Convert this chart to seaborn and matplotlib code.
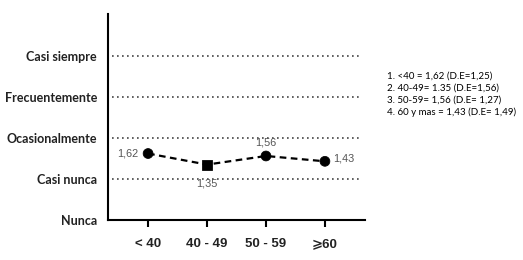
import matplotlib
matplotlib.use("Agg")
import matplotlib.pyplot as plt
import seaborn as sns
import pandas as pd

categories = ["< 40", "40 - 49", "50 - 59", "⩾60"]
values = [1.62, 1.35, 1.56, 1.43]
value_labels = ["1,62", "1,35", "1,56", "1,43"]
marker_kind = ["circle", "square", "circle", "circle"]
level_labels = ["Nunca", "Casi nunca", "Ocasionalmente", "Frecuentemente", "Casi siempre"]
level_values = [0, 1, 2, 3, 4]
legend_lines = [
    "1. <40 = 1,62 (D.E=1,25)",
    "2. 40-49= 1.35 (D.E=1,56)",
    "3. 50-59= 1,56 (D.E= 1,27)",
    "4. 60 y mas = 1,43 (D.E= 1,49)",
]

sns.set_style("white")
plt.rcParams['font.family'] = ['Liberation Sans', 'DejaVu Sans']

df = pd.DataFrame({"pos": range(len(categories)), "value": values, "kind": marker_kind})

fig = plt.figure(figsize=(5.23, 2.60), dpi=100)
ax = fig.add_axes([108/523, 40/260, 257/523, 206/260])

for lv in level_values[1:]:
    ax.axhline(lv, xmin=0.016, xmax=0.988, color="#444444", linestyle=(0, (1, 2)), lw=1.2, zorder=1)

sns.lineplot(data=df, x="pos", y="value", ax=ax, color="black", lw=1.6,
             linestyle=(0, (3, 2)), zorder=2)
sns.scatterplot(data=df, x="pos", y="value", style="kind", markers={"circle": "o", "square": "s"},
                color="black", s=50, edgecolor="black", ax=ax, legend=False, zorder=3)

ax.set_xlim(-0.68, 3.68)
ax.set_ylim(0, 5.02)
ax.set_xticks(range(len(categories)))
ax.set_xticklabels(categories, fontweight="bold", fontsize=9.5,
                   family=['Liberation Sans', 'DejaVu Sans'], color="#222222")
ax.set_yticks(level_values)
ax.set_yticklabels(level_labels, fontweight="bold", fontsize=9, family=['Lato', 'DejaVu Sans'],
                   color="#222222")
ax.tick_params(axis="x", bottom=True, direction="out", length=5, width=1.5, color="black", pad=8)
ax.tick_params(axis="y", left=False, length=0, pad=8)
ax.set_xlabel("")
ax.set_ylabel("")

for sp in ["top", "right"]:
    ax.spines[sp].set_visible(False)
for sp in ["left", "bottom"]:
    ax.spines[sp].set_color("black")
    ax.spines[sp].set_linewidth(1.5)

offsets = [(-7, 0, "right", "center"), (0, -10, "center", "top"),
           (0, 6, "center", "bottom"), (6, 2, "left", "center")]
for i, (lab, (dx, dy, ha, va)) in enumerate(zip(value_labels, offsets)):
    ax.annotate(lab, (i, values[i]), xytext=(dx, dy), textcoords="offset points",
                ha=ha, va=va, fontsize=7.8, color="#555555")

for j, line in enumerate(legend_lines):
    fig.text(387/523, 1 - (76 + 12*j)/260, line, fontsize=7, family=['Lato', 'DejaVu Sans'],
             ha="left", va="center", color="black")

fig.savefig("out.png", dpi=100)
